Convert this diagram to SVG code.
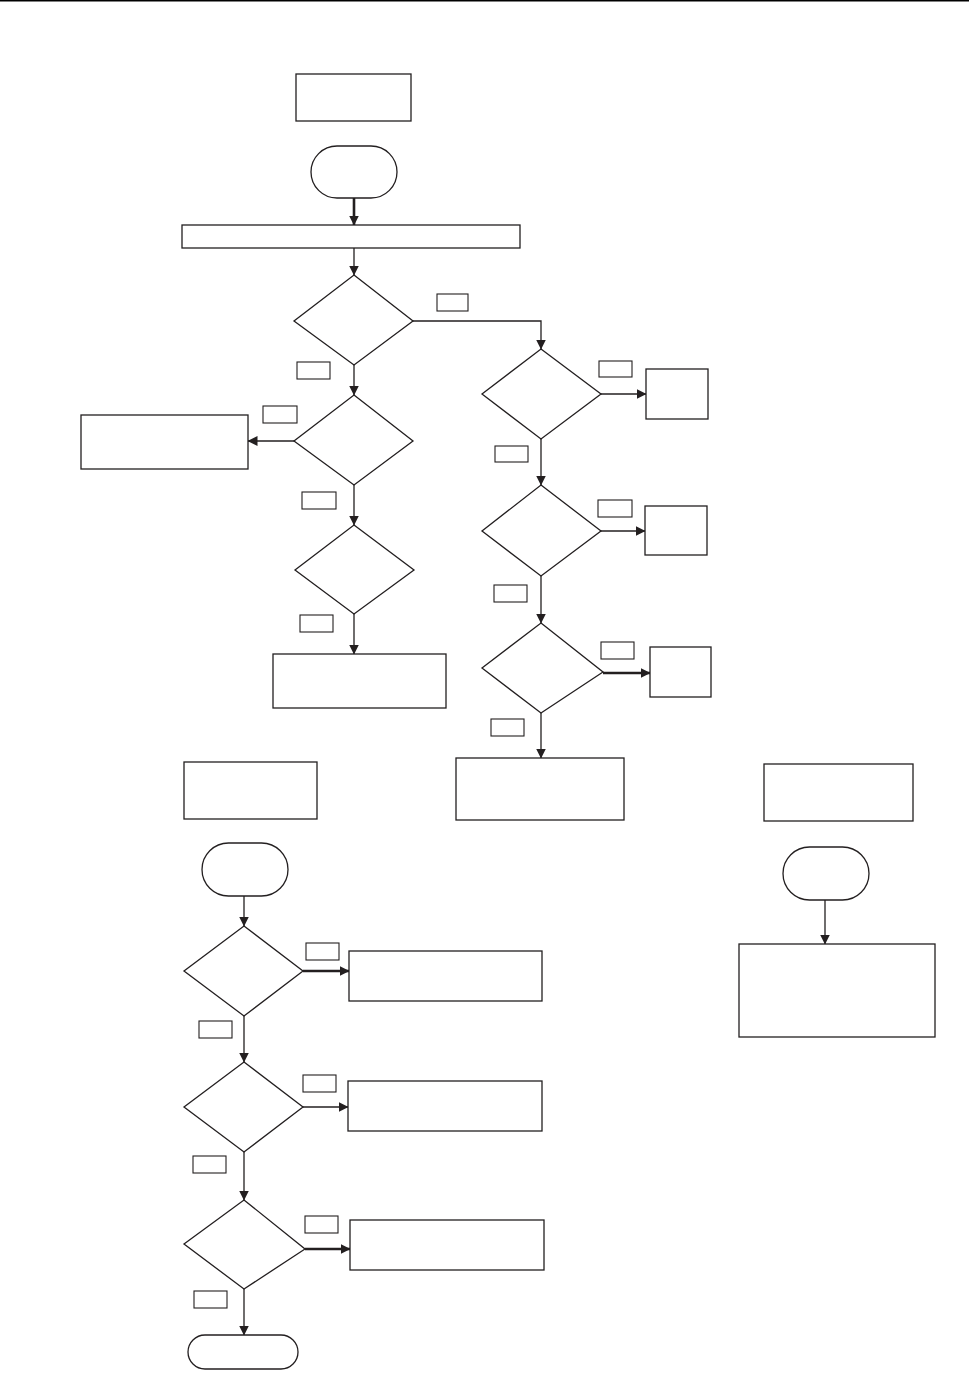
<svg xmlns="http://www.w3.org/2000/svg" width="969" height="1389" viewBox="0 0 969 1389">
<style>
.n{fill:#fff;stroke:#231f20;stroke-width:1.3}
.l{fill:#fff;stroke:#231f20;stroke-width:1.1}
.c{fill:none;stroke:#231f20;stroke-width:1.3}
.t{fill:none;stroke:#231f20;stroke-width:2.6}
</style>
<defs>
<marker id="a" markerUnits="userSpaceOnUse" markerWidth="10" markerHeight="10" refX="9.5" refY="5" orient="auto" viewBox="0 0 10 10">
<path d="M0,0 L10,5 L0,10 z" fill="#231f20"/>
</marker>
</defs>
<rect width="969" height="1389" fill="#fff"/>
<line x1="0" y1="0.8" x2="969" y2="0.8" stroke="#000" stroke-width="1.6"/>

<g id="connectors">
<line class="t" x1="354" y1="198" x2="354" y2="225" marker-end="url(#a)"/>
<line class="c" x1="354" y1="248" x2="354" y2="275" marker-end="url(#a)"/>
<polyline class="c" points="413,321 541,321 541,349" marker-end="url(#a)"/>
<line class="c" x1="354" y1="365" x2="354" y2="395" marker-end="url(#a)"/>
<line class="c" x1="294" y1="441" x2="248" y2="441" marker-end="url(#a)"/>
<line class="c" x1="354" y1="485" x2="354" y2="525" marker-end="url(#a)"/>
<line class="c" x1="354" y1="614" x2="354" y2="654" marker-end="url(#a)"/>
<line class="c" x1="601" y1="394" x2="646" y2="394" marker-end="url(#a)"/>
<line class="c" x1="541" y1="439" x2="541" y2="485" marker-end="url(#a)"/>
<line class="c" x1="601" y1="531" x2="645" y2="531" marker-end="url(#a)"/>
<line class="c" x1="541" y1="576" x2="541" y2="623" marker-end="url(#a)"/>
<line class="t" x1="603" y1="673" x2="650" y2="673" marker-end="url(#a)"/>
<line class="c" x1="541" y1="713" x2="541" y2="758" marker-end="url(#a)"/>
<line class="c" x1="825" y1="900" x2="825" y2="944" marker-end="url(#a)"/>
<line class="c" x1="244" y1="896" x2="244" y2="926" marker-end="url(#a)"/>
<line class="t" x1="303" y1="971" x2="349" y2="971" marker-end="url(#a)"/>
<line class="c" x1="244" y1="1016" x2="244" y2="1062" marker-end="url(#a)"/>
<line class="c" x1="303" y1="1107" x2="348" y2="1107" marker-end="url(#a)"/>
<line class="c" x1="244" y1="1152" x2="244" y2="1200" marker-end="url(#a)"/>
<line class="t" x1="305" y1="1249" x2="350" y2="1249" marker-end="url(#a)"/>
<line class="c" x1="244" y1="1289" x2="244" y2="1335" marker-end="url(#a)"/>
</g>

<g id="labels">
<rect class="l" x="437" y="294" width="31" height="17"/>
<rect class="l" x="297" y="362" width="33" height="17"/>
<rect class="l" x="263" y="406" width="34" height="17"/>
<rect class="l" x="302" y="492" width="34" height="17"/>
<rect class="l" x="300" y="615" width="33" height="17"/>
<rect class="l" x="599" y="361" width="33" height="16"/>
<rect class="l" x="495" y="446" width="33" height="16"/>
<rect class="l" x="598" y="500" width="34" height="17"/>
<rect class="l" x="494" y="585" width="33" height="17"/>
<rect class="l" x="601" y="642" width="33" height="17"/>
<rect class="l" x="491" y="719" width="33" height="17"/>
<rect class="l" x="306" y="943" width="33" height="17"/>
<rect class="l" x="199" y="1021" width="33" height="17"/>
<rect class="l" x="303" y="1075" width="33" height="17"/>
<rect class="l" x="193" y="1156" width="33" height="17"/>
<rect class="l" x="305" y="1216" width="33" height="17"/>
<rect class="l" x="194" y="1291" width="33" height="17"/>
</g>

<g id="n1"><rect class="n" x="296" y="74" width="115" height="47"/></g>
<g id="n2"><rect class="n" x="311" y="146" width="86" height="52" rx="26"/></g>
<g id="n3"><rect class="n" x="182" y="225" width="338" height="23"/></g>
<g id="d1"><polygon class="n" points="354,275 413,321 354,365 294,321"/></g>
<g id="d2"><polygon class="n" points="354,395 413,441 354,485 294,441"/></g>
<g id="n4"><rect class="n" x="81" y="415" width="167" height="54"/></g>
<g id="d3"><polygon class="n" points="354,525 414,570 354,614 295,570"/></g>
<g id="n5"><rect class="n" x="273" y="654" width="173" height="54"/></g>
<g id="d4"><polygon class="n" points="541,349 601,394 541,439 482,394"/></g>
<g id="n6"><rect class="n" x="646" y="369" width="62" height="50"/></g>
<g id="d5"><polygon class="n" points="541,485 601,531 541,576 482,531"/></g>
<g id="n7"><rect class="n" x="645" y="506" width="62" height="49"/></g>
<g id="d6"><polygon class="n" points="541,623 603,672 541,713 482,668"/></g>
<g id="n8"><rect class="n" x="650" y="647" width="61" height="50"/></g>
<g id="n9"><rect class="n" x="456" y="758" width="168" height="62"/></g>
<g id="n10"><rect class="n" x="764" y="764" width="149" height="57"/></g>
<g id="n11"><rect class="n" x="783" y="847" width="86" height="53" rx="26.5"/></g>
<g id="n12"><rect class="n" x="739" y="944" width="196" height="93"/></g>
<g id="n13"><rect class="n" x="184" y="762" width="133" height="57"/></g>
<g id="n14"><rect class="n" x="202" y="843" width="86" height="53" rx="26.5"/></g>
<g id="d7"><polygon class="n" points="244,926 303,971 244,1016 184,971"/></g>
<g id="n15"><rect class="n" x="349" y="951" width="193" height="50"/></g>
<g id="d8"><polygon class="n" points="244,1062 303,1107 244,1152 184,1107"/></g>
<g id="n16"><rect class="n" x="348" y="1081" width="194" height="50"/></g>
<g id="d9"><polygon class="n" points="244,1200 305,1249 244,1289 184,1244"/></g>
<g id="n17"><rect class="n" x="350" y="1220" width="194" height="50"/></g>
<g id="n18"><rect class="n" x="188" y="1335" width="110" height="34" rx="17"/></g>
</svg>
